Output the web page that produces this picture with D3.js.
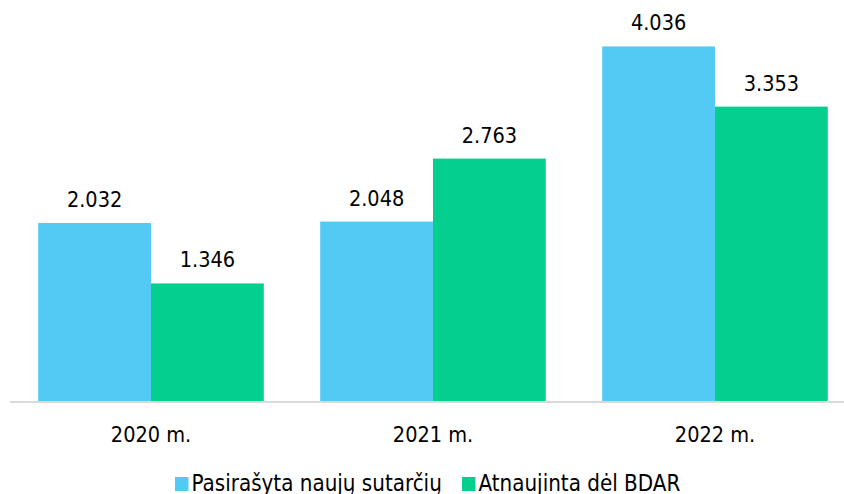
<!DOCTYPE html>
<html>
<head>
<meta charset="utf-8">
<script src="https://cdn.jsdelivr.net/npm/d3@7"></script>
<style>
  body { margin: 0; background: #fff; }
  svg text { font-family: "DejaVu Sans Condensed", "DejaVu Sans", sans-serif; font-stretch: condensed; fill: #000; }
</style>
</head>
<body>
<div id="chart"></div>
<script>
// data
let years = ['2020 m.', '2021 m.', '2022 m.'];
let seriesNames = ['Pasirašyta naujų sutarčių', 'Atnaujinta dėl BDAR'];
let signedNew = [2.032, 2.048, 4.036];
let renewedGdpr = [1.346, 2.763, 3.353];
let colors = ['#52caf3', '#05cf8e'];

let width = 844, height = 494;
let baseY = 402;
let fontSize = '21.5px';

let svg = d3.select('#chart').append('svg').attr('width', width).attr('height', height);

let x = d3.scaleBand().domain(years).range([10, 856]).paddingInner(0.2).paddingOuter(0.1);
let x1 = d3.scaleBand().domain([0, 1]).range([0, x.bandwidth()]);
let y = d3.scaleLinear().domain([0, 4.5]).range([baseY, baseY - 4.5 * 88.1]);

let rows = years.map(function (yr, i) {
  return { year: yr, values: [signedNew[i], renewedGdpr[i]] };
});

let groups = svg.selectAll('g.grp').data(rows).enter().append('g')
  .attr('class', 'grp')
  .attr('transform', function (d) { return 'translate(' + x(d.year) + ',0)'; });

groups.selectAll('rect').data(function (d) { return d.values; }).enter().append('rect')
  .attr('x', function (d, i) { return x1(i); })
  .attr('y', function (d) { return y(d); })
  .attr('width', x1.bandwidth())
  .attr('height', function (d) { return baseY - y(d); })
  .attr('fill', function (d, i) { return colors[i]; });

groups.selectAll('text.val').data(function (d) { return d.values; }).enter().append('text')
  .attr('class', 'val')
  .attr('x', function (d, i) { return x1(i) + x1.bandwidth() / 2; })
  .attr('y', function (d) { return y(d) - 16; })
  .attr('text-anchor', 'middle')
  .style('font-size', fontSize)
  .text(function (d) { return d3.format('.3f')(d); });

// x axis
let xAxis = svg.append('g').attr('transform', 'translate(0,' + baseY + ')')
  .call(d3.axisBottom(x).tickSize(0).tickPadding(0));
xAxis.select('.domain').attr('d', 'M10,0H844').attr('stroke', '#d9d9d9').attr('stroke-width', 2);
xAxis.selectAll('text')
  .attr('y', 39.5).attr('dy', null)
  .style('font-size', fontSize)
  .style('font-family', '"DejaVu Sans Condensed", "DejaVu Sans", sans-serif')
  .attr('fill', '#000');

// legend
let legendX = [175, 462];
let legend = svg.selectAll('g.leg').data(seriesNames).enter().append('g')
  .attr('class', 'leg')
  .attr('transform', function (d, i) { return 'translate(' + legendX[i] + ',477)'; });
legend.append('rect').attr('width', 13.5).attr('height', 14).attr('fill', function (d, i) { return colors[i]; });
legend.append('text').attr('x', 16.5).attr('y', 13.5).style('font-size', '22.2px').text(function (d) { return d; });
</script>
</body>
</html>
